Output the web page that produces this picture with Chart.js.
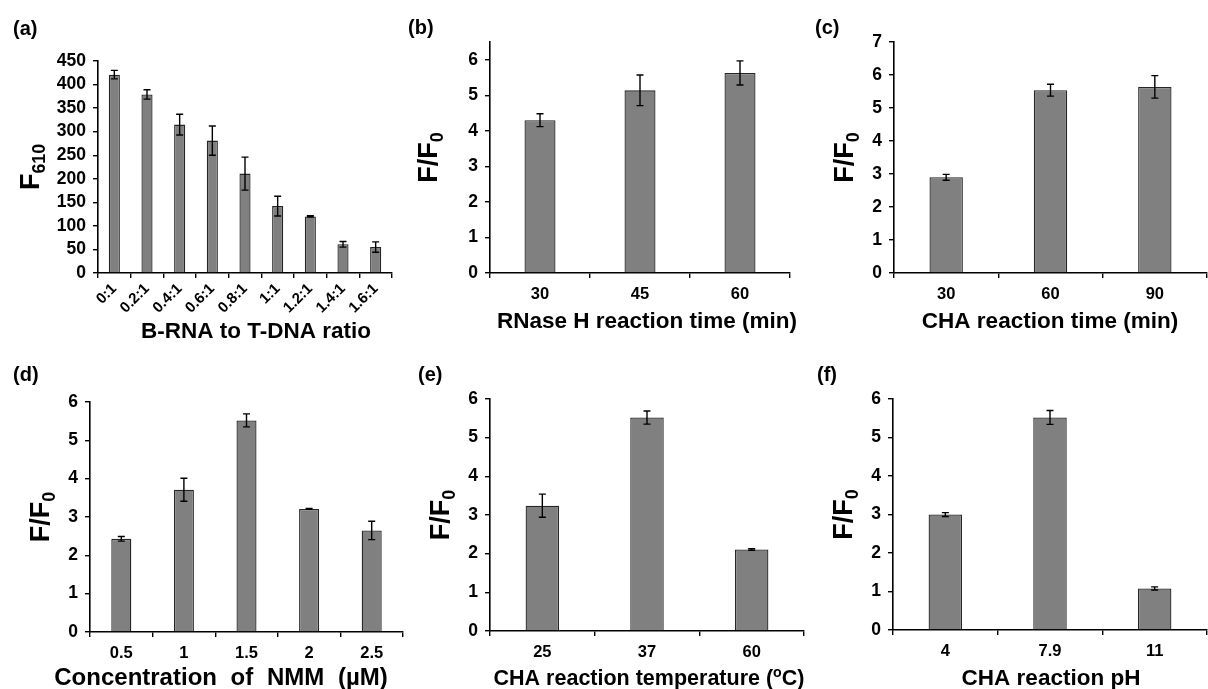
<!DOCTYPE html>
<html>
<head>
<meta charset="utf-8">
<script src="https://cdn.jsdelivr.net/npm/chart.js@4.4.1/dist/chart.umd.min.js"></script>
<style>
  body { margin: 0; background: #fff; }
  #wrap { position: relative; width: 1208px; height: 689px; overflow: hidden; }
  canvas { position: absolute; }
</style>
</head>
<body>
<div id="wrap">
  <canvas id="chart-a"></canvas>
  <canvas id="chart-b"></canvas>
  <canvas id="chart-c"></canvas>
  <canvas id="chart-d"></canvas>
  <canvas id="chart-e"></canvas>
  <canvas id="chart-f"></canvas>
</div>
<script>
// (a) B-RNA : T-DNA ratio
const ratioLabels = ['0:1', '0.2:1', '0.4:1', '0.6:1', '0.8:1', '1:1', '1.2:1', '1.4:1', '1.6:1'];
const ratioValues = [421, 379, 315, 281, 211, 142, 120, 61, 55];
const ratioErrors = [9, 10, 22, 31, 35, 21, 1.5, 6, 11];

// (b) RNase H reaction time
const rnaseLabels = ['30', '45', '60'];
const rnaseValues = [4.30, 5.14, 5.63];
const rnaseErrors = [0.18, 0.43, 0.34];

// (c) CHA reaction time
const chaTimeLabels = ['30', '60', '90'];
const chaTimeValues = [2.90, 5.54, 5.64];
const chaTimeErrors = [0.09, 0.18, 0.34];

// (d) NMM concentration
const nmmLabels = ['0.5', '1', '1.5', '2', '2.5'];
const nmmValues = [2.43, 3.71, 5.52, 3.21, 2.65];
const nmmErrors = [0.06, 0.30, 0.17, 0.01, 0.24];

// (e) CHA temperature
const tempLabels = ['25', '37', '60'];
const tempValues = [3.24, 5.52, 2.11];
const tempErrors = [0.30, 0.17, 0.02];

// (f) CHA pH
const phLabels = ['4', '7.9', '11'];
const phValues = [3.00, 5.52, 1.08];
const phErrors = [0.05, 0.18, 0.04];

const FONT = '"Liberation Sans", Arial, sans-serif';

// draws text made of [text, kind] pieces, kind: 0 normal, 1 subscript, -1 superscript
function drawParts(ctx, parts, size) {
  const small = size * 0.66;
  let total = 0;
  parts.forEach(p => {
    ctx.font = 'bold ' + (p[1] ? small : size) + 'px ' + FONT;
    total += ctx.measureText(p[0]).width;
  });
  let x = -total / 2;
  parts.forEach(p => {
    ctx.font = 'bold ' + (p[1] ? small : size) + 'px ' + FONT;
    let dy = 0;
    if (p[1] === 1) dy = size * 0.22;
    if (p[1] === -1) dy = -size * 0.38;
    ctx.fillText(p[0], x, dy);
    x += ctx.measureText(p[0]).width;
  });
}

const errorBars = {
  id: 'errorBars',
  afterDatasetsDraw(chart, args, o) {
    const ctx = chart.ctx;
    const y = chart.scales.y;
    const values = chart.data.datasets[0].data;
    ctx.save();
    ctx.strokeStyle = '#000';
    ctx.lineWidth = 1.4;
    chart.getDatasetMeta(0).data.forEach((bar, i) => {
      const top = y.getPixelForValue(values[i] + o.errors[i]);
      const bot = y.getPixelForValue(values[i] - o.errors[i]);
      ctx.beginPath();
      ctx.moveTo(bar.x, top);
      ctx.lineTo(bar.x, bot);
      ctx.moveTo(bar.x - 3.5, top);
      ctx.lineTo(bar.x + 3.5, top);
      ctx.moveTo(bar.x - 3.5, bot);
      ctx.lineTo(bar.x + 3.5, bot);
      ctx.stroke();
    });
    ctx.restore();
  }
};

const panelTexts = {
  id: 'panelTexts',
  afterDraw(chart, args, o) {
    const ctx = chart.ctx;
    const a = chart.chartArea;
    ctx.save();
    ctx.fillStyle = '#000';
    ctx.textBaseline = 'alphabetic';
    ctx.textAlign = 'left';
    ctx.font = 'bold 20px ' + FONT;
    ctx.fillText(o.label, o.labelPos[0], o.labelPos[1]);

    ctx.save();
    ctx.translate(o.yTitleX, (a.top + a.bottom) / 2);
    ctx.rotate(-Math.PI / 2);
    drawParts(ctx, o.yTitle, 27);
    ctx.restore();

    ctx.save();
    ctx.translate(o.xTitleX, o.xTitleY);
    ctx.wordSpacing = o.wordSpacing || '0px';
    drawParts(ctx, o.xTitle, o.xTitleSize || 22.5);
    ctx.restore();
    ctx.restore();
  }
};

function makeChart(id, box, area, labels, values, errors, yMax, step, texts, barPct, rotate) {
  const canvas = document.getElementById(id);
  canvas.width = box[2];
  canvas.height = box[3];
  canvas.style.left = box[0] + 'px';
  canvas.style.top = box[1] + 'px';
  const shift = p => [p[0] - box[0], p[1] - box[1]];
  return new Chart(canvas, {
    type: 'bar',
    data: {
      labels: labels,
      datasets: [{
        data: values,
        backgroundColor: '#808080',
        borderColor: '#262626',
        borderWidth: 1.3,
        categoryPercentage: 1,
        barPercentage: barPct
      }]
    },
    options: {
      responsive: false,
      animation: false,
      layout: {
        padding: { top: area[1] - box[1], right: box[0] + box[2] - area[2], left: 0, bottom: 0 }
      },
      plugins: {
        legend: { display: false },
        tooltip: { enabled: false },
        errorBars: { errors: errors },
        panelTexts: {
          label: texts.label,
          labelPos: shift(texts.labelPos),
          yTitle: texts.yTitle,
          yTitleX: texts.yTitleX - box[0],
          xTitle: texts.xTitle,
          xTitleX: texts.xTitleX - box[0],
          xTitleY: texts.xTitleY - box[1],
          xTitleSize: texts.xTitleSize,
          wordSpacing: texts.wordSpacing
        }
      },
      scales: {
        x: {
          grid: { offset: true, drawOnChartArea: false, tickLength: 5, color: '#000', lineWidth: 1.4 },
          border: { display: true, color: '#000', width: 1.6 },
          ticks: {
            color: '#000',
            font: { family: FONT, size: rotate ? 15 : 16.5, weight: 'bold' },
            padding: rotate ? 2 : 7,
            minRotation: rotate ? 45 : 0,
            maxRotation: rotate ? 45 : 0,
            autoSkip: false
          },
          afterFit: s => { s.height = box[1] + box[3] - area[3]; }
        },
        y: {
          min: 0,
          max: yMax,
          grid: { drawOnChartArea: false, tickLength: 5, color: '#000', lineWidth: 1.4 },
          border: { display: true, color: '#000', width: 1.6 },
          ticks: {
            stepSize: step,
            color: '#000',
            font: { family: FONT, size: 17.5, weight: 'bold' },
            padding: 7,
            autoSkip: false
          },
          // keep only whole steps (the axis line of (b) runs past the last tick)
          afterBuildTicks: s => {
            const ticks = [];
            for (let v = 0; v <= yMax + 1e-9; v += step) ticks.push({ value: v });
            s.ticks = ticks;
          },
          afterFit: s => { s.width = area[0] - box[0]; }
        }
      }
    },
    plugins: [errorBars, panelTexts]
  });
}

const FF0 = [['F/F', 0], ['0', 1]];

makeChart('chart-a', [0, 0, 405, 345], [98, 61, 392, 273],
  ratioLabels, ratioValues, ratioErrors, 450, 50,
  { label: '(a)', labelPos: [13, 35], yTitle: [['F', 0], ['610', 1]], yTitleX: 39,
    xTitle: [['B-RNA to T-DNA ratio', 0]], xTitleX: 256, xTitleY: 338 }, 0.34, true);

makeChart('chart-b', [405, 0, 400, 345], [490, 42, 790, 273],
  rnaseLabels, rnaseValues, rnaseErrors, 6.5, 1,
  { label: '(b)', labelPos: [408, 34], yTitle: FF0, yTitleX: 437,
    xTitle: [['RNase H reaction time (min)', 0]], xTitleX: 647, xTitleY: 328 }, 0.31, false);

makeChart('chart-c', [805, 0, 403, 345], [894, 42, 1207, 273],
  chaTimeLabels, chaTimeValues, chaTimeErrors, 7, 1,
  { label: '(c)', labelPos: [815, 34], yTitle: FF0, yTitleX: 853,
    xTitle: [['CHA reaction time (min)', 0]], xTitleX: 1050, xTitleY: 328 }, 0.32, false);

makeChart('chart-d', [0, 345, 405, 344], [90, 402, 403, 632],
  nmmLabels, nmmValues, nmmErrors, 6, 1,
  { label: '(d)', labelPos: [13, 381], yTitle: FF0, yTitleX: 49,
    xTitle: [['Concentration of NMM (\u00b5M)', 0]], xTitleX: 221, xTitleY: 685,
    xTitleSize: 24, wordSpacing: '7px' }, 0.32, false);

makeChart('chart-e', [405, 345, 402, 344], [490, 399, 804, 631],
  tempLabels, tempValues, tempErrors, 6, 1,
  { label: '(e)', labelPos: [418, 381], yTitle: FF0, yTitleX: 449,
    xTitle: [['CHA reaction temperature (', 0], ['o', -1], ['C)', 0]], xTitleX: 649, xTitleY: 685,
    xTitleSize: 21.5 }, 0.32, false);

makeChart('chart-f', [807, 345, 401, 344], [893, 399, 1207, 630],
  phLabels, phValues, phErrors, 6, 1,
  { label: '(f)', labelPos: [817, 381], yTitle: FF0, yTitleX: 852,
    xTitle: [['CHA reaction pH', 0]], xTitleX: 1051, xTitleY: 685 }, 0.32, false);
</script>
</body>
</html>
